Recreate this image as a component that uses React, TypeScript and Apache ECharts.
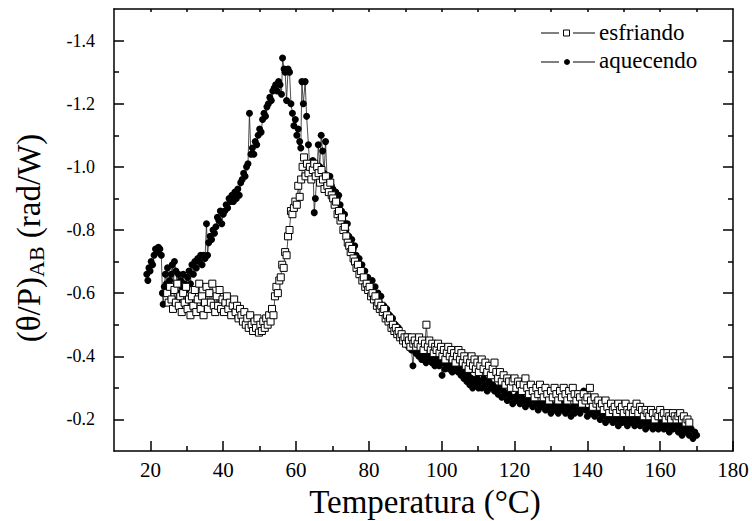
import React, { useEffect, useRef } from "react";
import * as echarts from "echarts";

const xMajorTicks = [20, 40, 60, 80, 100, 120, 140, 160, 180];
const xMinorTicks = [30, 50, 70, 90, 110, 130, 150, 170];
const xTopTicks = [20, 30, 40, 50, 60, 70, 80, 90, 100, 110, 120, 130, 140, 150, 160, 170];
const yMajorTicks = [-1.4, -1.2, -1.0, -0.8, -0.6, -0.4, -0.2];
const yMinorTicks = [-1.3, -1.1, -0.9, -0.7, -0.5, -0.3];
const seriesNames = ["esfriando", "aquecendo"];
const xTitle = "Temperatura (°C)";

const aquecendo: [number, number][] = [
  [19.0,-0.66],[19.3,-0.64],[19.6,-0.68],[19.9,-0.67],[20.2,-0.70],[20.6,-0.69],[21.0,-0.72],[21.4,-0.74],[21.8,-0.73],[22.2,-0.745],
  [22.6,-0.74],[23.0,-0.72],[23.3,-0.60],[23.5,-0.565],[23.8,-0.62],[24.1,-0.66],[24.4,-0.63],[24.7,-0.68],[25.0,-0.61],[25.3,-0.64],
  [25.7,-0.66],[26.0,-0.69],[26.3,-0.62],[26.6,-0.70],[27.0,-0.67],[27.3,-0.63],[27.7,-0.66],[28.0,-0.60],[28.3,-0.64],[28.7,-0.62],
  [29.0,-0.66],[29.4,-0.63],[29.8,-0.61],[30.2,-0.65],[30.6,-0.67],[31.0,-0.63],[31.4,-0.69],[31.8,-0.66],[32.2,-0.70],[32.6,-0.68],
  [33.0,-0.71],[33.4,-0.70],[33.8,-0.72],[34.2,-0.69],[34.6,-0.72],[35.0,-0.71],[35.4,-0.82],[35.7,-0.72],[36.0,-0.76],[36.4,-0.78],
  [36.8,-0.77],[37.2,-0.80],[37.6,-0.79],[38.0,-0.81],[38.4,-0.84],[38.8,-0.83],[39.2,-0.86],[39.6,-0.82],[40.0,-0.85],[40.4,-0.86],
  [40.8,-0.88],[41.2,-0.87],[41.6,-0.90],[42.0,-0.89],[42.4,-0.91],[42.8,-0.89],[43.2,-0.92],[43.6,-0.90],[44.0,-0.93],[44.4,-0.91],
  [44.8,-0.95],[45.2,-0.96],[45.6,-0.98],[46.0,-0.97],[46.4,-1.00],[46.8,-1.01],[47.2,-1.17],[47.6,-1.04],[48.0,-1.06],[48.4,-1.04],
  [48.8,-1.08],[49.2,-1.07],[49.6,-1.10],[50.0,-1.12],[50.4,-1.11],[50.8,-1.15],[51.2,-1.17],[51.6,-1.16],[52.0,-1.19],[52.4,-1.20],
  [52.8,-1.22],[53.2,-1.21],[53.6,-1.24],[54.0,-1.25],[54.4,-1.26],[54.8,-1.24],[55.2,-1.27],[55.6,-1.26],[56.0,-1.23],[56.3,-1.345],
  [56.7,-1.31],[57.0,-1.30],[57.4,-1.21],[57.8,-1.31],[58.2,-1.30],[58.6,-1.20],[59.0,-1.17],[59.4,-1.13],[59.8,-1.15],[60.2,-1.10],
  [60.6,-1.12],[61.0,-1.08],[61.3,-1.06],[61.6,-1.27],[62.0,-1.20],[62.5,-1.27],[62.9,-1.16],[63.4,-1.07],[63.8,-0.99],[64.2,-0.96],
  [64.6,-1.02],[65.0,-0.855],[65.3,-0.90],[65.7,-0.97],[66.1,-1.07],[66.5,-1.00],[66.9,-1.10],[67.3,-1.05],[67.7,-0.98],[68.1,-1.08],
  [68.5,-0.97],[68.9,-0.95],[69.3,-0.97],[69.7,-0.94],[70.1,-0.93],[70.5,-0.91],[70.9,-0.92],[71.3,-0.90],[71.7,-0.91],[72.1,-0.88],
  [72.5,-0.86],[72.9,-0.83],[73.3,-0.85],[73.7,-0.80],[74.1,-0.82],[74.5,-0.78],[74.9,-0.76],[75.3,-0.77],[75.7,-0.74],[76.1,-0.75],
  [76.5,-0.72],[76.9,-0.70],[77.3,-0.71],[77.7,-0.68],[78.1,-0.69],[78.5,-0.66],[78.9,-0.67],[79.3,-0.64],[79.7,-0.65],[80.1,-0.63],
  [80.5,-0.61],[80.9,-0.64],[81.3,-0.60],[81.7,-0.62],[82.1,-0.58],[82.5,-0.60],[82.9,-0.57],[83.3,-0.59],[83.7,-0.55],[84.1,-0.56],
  [84.5,-0.53],[84.9,-0.55],[85.3,-0.51],[85.7,-0.53],[86.1,-0.50],[86.5,-0.52],[86.9,-0.48],[87.3,-0.50],[87.7,-0.47],[88.1,-0.49],
  [88.5,-0.46],[88.9,-0.47],[89.3,-0.45],[89.7,-0.46],[90.1,-0.44],[90.5,-0.45],[90.9,-0.43],[91.3,-0.46],[91.7,-0.42],[92.1,-0.37],
  [92.5,-0.43],[92.9,-0.41],[93.3,-0.42],[93.7,-0.40],[94.1,-0.41],[94.5,-0.39],[94.9,-0.42],[95.3,-0.40],[95.7,-0.38],[96.1,-0.41],
  [96.5,-0.39],[96.9,-0.40],[97.3,-0.38],[97.7,-0.39],[98.1,-0.37],[98.5,-0.40],[98.9,-0.38],[99.3,-0.37],[99.7,-0.39],[100.1,-0.34],
  [100.5,-0.38],[100.9,-0.36],[101.3,-0.37],[101.7,-0.39],[102.1,-0.36],[102.5,-0.38],[102.9,-0.35],[103.3,-0.37],[103.7,-0.36],[104.1,-0.38],
  [104.5,-0.35],[104.9,-0.37],[105.3,-0.34],[105.7,-0.36],[106.1,-0.33],[106.5,-0.35],[106.9,-0.32],[107.3,-0.34],[107.7,-0.31],[108.1,-0.33],
  [108.5,-0.30],[108.9,-0.32],[109.3,-0.31],[109.7,-0.33],[110.1,-0.30],[110.5,-0.32],[111.0,-0.30],[111.5,-0.33],[112.0,-0.31],[112.5,-0.29],
  [113.0,-0.32],[113.5,-0.30],[114.0,-0.31],[114.5,-0.29],[115.0,-0.30],[115.5,-0.28],[116.0,-0.30],[116.5,-0.27],[117.0,-0.29],[117.5,-0.28],
  [118.0,-0.26],[118.5,-0.28],[119.0,-0.27],[119.5,-0.25],[120.0,-0.27],[120.5,-0.26],[121.0,-0.28],[121.5,-0.25],[122.0,-0.27],[122.5,-0.26],
  [123.0,-0.24],[123.5,-0.26],[124.0,-0.25],[124.5,-0.27],[125.0,-0.24],[125.5,-0.26],[126.0,-0.25],[126.5,-0.23],[127.0,-0.25],[127.5,-0.24],
  [128.0,-0.26],[128.5,-0.23],[129.0,-0.25],[129.5,-0.24],[130.0,-0.22],[130.5,-0.24],[131.0,-0.23],[131.5,-0.25],[132.0,-0.22],[132.5,-0.24],
  [133.0,-0.23],[133.5,-0.25],[134.0,-0.22],[134.5,-0.24],[135.0,-0.23],[135.5,-0.21],[136.0,-0.24],[136.5,-0.22],[137.0,-0.23],[137.5,-0.25],
  [138.0,-0.22],[138.5,-0.24],[139.0,-0.29],[139.5,-0.23],[140.0,-0.21],[140.5,-0.23],[141.0,-0.22],[141.5,-0.24],[142.0,-0.21],[142.5,-0.23],
  [143.0,-0.22],[143.5,-0.20],[144.0,-0.22],[144.5,-0.21],[145.0,-0.19],[145.5,-0.21],[146.0,-0.20],[146.5,-0.22],[147.0,-0.19],[147.5,-0.21],
  [148.0,-0.20],[148.5,-0.18],[149.0,-0.20],[149.5,-0.19],[150.0,-0.21],[150.5,-0.19],[151.0,-0.18],[151.5,-0.20],[152.0,-0.19],[152.5,-0.21],
  [153.0,-0.18],[153.5,-0.20],[154.0,-0.19],[154.5,-0.18],[155.0,-0.20],[155.5,-0.19],[156.0,-0.17],[156.5,-0.19],[157.0,-0.18],[157.5,-0.20],
  [158.0,-0.17],[158.5,-0.19],[159.0,-0.18],[159.5,-0.17],[160.0,-0.19],[160.5,-0.18],[161.0,-0.17],[161.5,-0.19],[162.0,-0.18],[162.5,-0.16],
  [163.0,-0.18],[163.5,-0.17],[164.0,-0.19],[164.5,-0.18],[165.0,-0.16],[165.5,-0.18],[166.0,-0.15],[166.5,-0.17],[167.0,-0.16],[167.5,-0.18],
  [168.0,-0.15],[168.5,-0.17],[169.0,-0.14],[169.5,-0.16],[170.0,-0.15]
];

const esfriando: [number, number][] = [
  [24.6,-0.60],[25.0,-0.57],[25.4,-0.62],[25.8,-0.58],[26.2,-0.55],[26.6,-0.61],[27.0,-0.57],[27.4,-0.63],[27.8,-0.56],[28.2,-0.59],
  [28.6,-0.54],[29.0,-0.60],[29.4,-0.57],[29.8,-0.62],[30.2,-0.55],[30.6,-0.58],[31.0,-0.53],[31.4,-0.59],[31.8,-0.56],[32.2,-0.61],
  [32.6,-0.54],[33.0,-0.58],[33.4,-0.63],[33.8,-0.55],[34.2,-0.59],[34.6,-0.53],[35.0,-0.57],[35.4,-0.62],[35.8,-0.55],[36.2,-0.60],
  [36.6,-0.57],[37.0,-0.63],[37.4,-0.56],[37.8,-0.54],[38.2,-0.59],[38.6,-0.56],[39.0,-0.61],[39.4,-0.55],[39.8,-0.58],[40.2,-0.54],
  [40.6,-0.57],[41.0,-0.59],[41.4,-0.55],[41.8,-0.57],[42.2,-0.53],[42.6,-0.56],[43.0,-0.58],[43.4,-0.54],[43.8,-0.56],[44.2,-0.52],
  [44.6,-0.55],[45.0,-0.53],[45.4,-0.51],[45.8,-0.54],[46.2,-0.50],[46.6,-0.52],[47.0,-0.49],[47.4,-0.53],[47.8,-0.50],[48.2,-0.48],
  [48.6,-0.51],[49.0,-0.49],[49.4,-0.52],[49.8,-0.475],[50.2,-0.50],[50.6,-0.48],[51.0,-0.51],[51.4,-0.49],[51.8,-0.52],[52.2,-0.50],
  [52.6,-0.53],[53.0,-0.51],[53.4,-0.55],[53.8,-0.53],[54.2,-0.59],[54.6,-0.62],[55.0,-0.60],[55.4,-0.64],[55.8,-0.65],[56.2,-0.69],
  [56.6,-0.68],[57.0,-0.73],[57.4,-0.72],[57.8,-0.78],[58.2,-0.80],[58.6,-0.86],[59.0,-0.85],[59.4,-0.87],[59.8,-0.89],[60.2,-0.88],
  [60.6,-0.94],[61.0,-0.905],[61.4,-0.96],[61.8,-1.00],[62.2,-1.03],[62.6,-0.97],[63.0,-1.01],[63.4,-0.98],[63.8,-1.00],[64.2,-0.96],
  [64.6,-0.99],[65.0,-1.01],[65.4,-0.97],[65.8,-1.00],[66.2,-0.98],[66.6,-0.95],[67.0,-0.99],[67.4,-0.96],[67.8,-0.93],[68.2,-0.97],
  [68.6,-0.94],[69.0,-0.92],[69.4,-0.95],[69.8,-0.91],[70.2,-0.90],[70.6,-0.88],[71.0,-0.89],[71.4,-0.85],[71.8,-0.86],[72.2,-0.83],
  [72.6,-0.84],[73.0,-0.80],[73.4,-0.81],[73.8,-0.78],[74.2,-0.76],[74.6,-0.75],[75.0,-0.73],[75.4,-0.74],[75.8,-0.71],[76.2,-0.70],
  [76.6,-0.68],[77.0,-0.69],[77.4,-0.66],[77.8,-0.67],[78.2,-0.64],[78.6,-0.65],[79.0,-0.62],[79.4,-0.63],[79.8,-0.61],[80.2,-0.62],
  [80.6,-0.59],[81.0,-0.60],[81.4,-0.58],[81.8,-0.59],[82.2,-0.56],[82.6,-0.57],[83.0,-0.55],[83.4,-0.56],[83.8,-0.54],[84.2,-0.55],
  [84.6,-0.52],[85.0,-0.53],[85.4,-0.51],[85.8,-0.52],[86.2,-0.49],[86.6,-0.50],[87.0,-0.48],[87.4,-0.49],[87.8,-0.47],[88.2,-0.48],
  [88.6,-0.46],[89.0,-0.47],[89.4,-0.45],[89.8,-0.46],[90.2,-0.44],[90.6,-0.46],[91.0,-0.45],[91.4,-0.43],[91.8,-0.46],[92.2,-0.44],
  [92.6,-0.45],[93.0,-0.43],[93.4,-0.44],[93.8,-0.46],[94.2,-0.43],[94.6,-0.45],[95.0,-0.42],[95.4,-0.44],[95.8,-0.50],[96.2,-0.43],
  [96.6,-0.45],[97.0,-0.42],[97.4,-0.44],[97.8,-0.41],[98.2,-0.43],[98.6,-0.42],[99.0,-0.44],[99.4,-0.41],[99.8,-0.43],[100.2,-0.40],
  [100.6,-0.42],[101.0,-0.39],[101.4,-0.41],[101.8,-0.43],[102.2,-0.40],[102.6,-0.42],[103.0,-0.39],[103.4,-0.41],[103.8,-0.38],[104.2,-0.40],
  [104.6,-0.42],[105.0,-0.39],[105.4,-0.41],[105.8,-0.38],[106.2,-0.40],[106.6,-0.37],[107.0,-0.39],[107.4,-0.36],[107.8,-0.38],[108.2,-0.40],
  [108.6,-0.37],[109.0,-0.39],[109.4,-0.36],[109.8,-0.38],[110.2,-0.35],[110.6,-0.37],[111.0,-0.39],[111.5,-0.36],[112.0,-0.38],[112.5,-0.35],
  [113.0,-0.37],[113.5,-0.34],[114.0,-0.36],[114.5,-0.38],[115.0,-0.35],[115.5,-0.33],[116.0,-0.35],[116.5,-0.32],[117.0,-0.34],[117.5,-0.31],
  [118.0,-0.33],[118.5,-0.32],[119.0,-0.30],[119.5,-0.32],[120.0,-0.33],[120.5,-0.30],[121.0,-0.32],[121.5,-0.31],[122.0,-0.29],[122.5,-0.31],
  [123.0,-0.33],[123.5,-0.30],[124.0,-0.28],[124.5,-0.31],[125.0,-0.29],[125.5,-0.27],[126.0,-0.30],[126.5,-0.28],[127.0,-0.31],[127.5,-0.29],
  [128.0,-0.27],[128.5,-0.30],[129.0,-0.28],[129.5,-0.26],[130.0,-0.29],[130.5,-0.27],[131.0,-0.30],[131.5,-0.28],[132.0,-0.26],[132.5,-0.29],
  [133.0,-0.27],[133.5,-0.30],[134.0,-0.28],[134.5,-0.26],[135.0,-0.29],[135.5,-0.27],[136.0,-0.30],[136.5,-0.28],[137.0,-0.26],[137.5,-0.28],
  [138.0,-0.27],[138.5,-0.25],[139.0,-0.28],[139.5,-0.26],[140.0,-0.27],[140.7,-0.30],[141.0,-0.26],[141.5,-0.24],[142.0,-0.27],[142.5,-0.25],
  [143.0,-0.26],[143.5,-0.24],[144.0,-0.25],[144.5,-0.23],[145.0,-0.26],[145.5,-0.24],[146.0,-0.22],[146.5,-0.25],[147.0,-0.23],[147.5,-0.24],
  [148.0,-0.22],[148.5,-0.25],[149.0,-0.23],[149.5,-0.24],[150.0,-0.22],[150.5,-0.25],[151.0,-0.23],[151.5,-0.22],[152.0,-0.24],[152.5,-0.22],
  [153.0,-0.23],[153.5,-0.25],[154.0,-0.22],[154.5,-0.24],[155.0,-0.23],[155.5,-0.21],[156.0,-0.23],[156.5,-0.22],[157.0,-0.21],[157.5,-0.23],
  [158.0,-0.22],[158.5,-0.20],[159.0,-0.22],[159.5,-0.21],[160.0,-0.23],[160.5,-0.21],[161.0,-0.22],[161.5,-0.20],[162.0,-0.22],[162.5,-0.21],
  [163.0,-0.20],[163.5,-0.22],[164.0,-0.21],[164.5,-0.20],[165.0,-0.21],[165.5,-0.22],[166.0,-0.20],[166.5,-0.21],[167.0,-0.19],[167.5,-0.20],
  [168.0,-0.19]
];

const FONT = "Liberation Serif";
const BLACK = "#000";
const CSS = "#chart-root svg text, #chart-root svg tspan { font-family: 'Liberation Serif', serif !important; }";

function txt(x: number, y: number, text: string, size: number, align: string, vAlign: string): any {
  return { type: "text", x, y, style: { text, fontSize: size, fontFamily: FONT, fill: BLACK, align, verticalAlign: vAlign } };
}

function buildOption(): any {
  const line = { color: BLACK, width: 1.5 };
  const labelX = { customValues: xMajorTicks, fontSize: 21, fontFamily: FONT, color: BLACK, margin: 8 };
  const labelY = { customValues: yMajorTicks, fontSize: 18, fontFamily: FONT, color: BLACK, margin: 19, formatter: (v: number) => v.toFixed(1) };
  const baseX = { type: "value", min: 10, max: 180, splitLine: { show: false } };
  const baseY = { type: "value", min: -1.5, max: -0.1, inverse: true, splitLine: { show: false } };
  return {
    animation: false,
    textStyle: { fontFamily: FONT },
    grid: { left: 114, right: 19, top: 9, bottom: 70 },
    xAxis: [
      { ...baseX, position: "bottom", axisLine: { show: true, onZero: false, lineStyle: line },
        axisTick: { show: true, inside: true, length: 10, customValues: xMajorTicks, lineStyle: line }, axisLabel: labelX },
      { ...baseX, position: "bottom", axisLine: { show: false, onZero: false },
        axisTick: { show: true, inside: true, length: 5, customValues: xMinorTicks, lineStyle: line }, axisLabel: { show: false } },
      { ...baseX, position: "top", axisLine: { show: true, onZero: false, lineStyle: line },
        axisTick: { show: true, inside: true, length: 3, customValues: xTopTicks, lineStyle: line }, axisLabel: { show: false } },
    ],
    yAxis: [
      { ...baseY, position: "left", axisLine: { show: true, onZero: false, lineStyle: line },
        axisTick: { show: true, inside: true, length: 10, customValues: yMajorTicks, lineStyle: line }, axisLabel: labelY },
      { ...baseY, position: "left", axisLine: { show: false, onZero: false },
        axisTick: { show: true, inside: true, length: 5, customValues: yMinorTicks, lineStyle: line }, axisLabel: { show: false } },
      { ...baseY, position: "right", axisLine: { show: true, onZero: false, lineStyle: line },
        axisTick: { show: true, inside: true, length: 10, customValues: yMajorTicks, lineStyle: line }, axisLabel: { show: false } },
      { ...baseY, position: "right", axisLine: { show: false, onZero: false },
        axisTick: { show: true, inside: true, length: 5, customValues: yMinorTicks, lineStyle: line }, axisLabel: { show: false } },
    ],
    series: [
      { name: seriesNames[1], type: "line", data: aquecendo, symbol: "circle", symbolSize: 7, showSymbol: true, showAllSymbol: true,
        itemStyle: { color: BLACK }, lineStyle: { color: "#222", width: 0.8 } },
      { name: seriesNames[0], type: "line", data: esfriando, symbol: "rect", symbolSize: 7, showSymbol: true, showAllSymbol: true,
        itemStyle: { color: "#fff", borderColor: BLACK, borderWidth: 1 }, lineStyle: { color: "#222", width: 0.8 } },
    ],
    graphic: [
      txt(425, 502, xTitle, 33, "center", "middle"),
      {
        type: "text", x: 29, y: 238, rotation: Math.PI / 2,
        style: {
          text: "(θ/P){sub|AB} (rad/W)", fontSize: 33, fontFamily: FONT, fill: BLACK, align: "center", verticalAlign: "middle",
          rich: { sub: { fontSize: 22, fontFamily: FONT, fill: BLACK, padding: [14, 0, 0, 0] } },
        },
      },
      { type: "line", shape: { x1: 541, y1: 33, x2: 559, y2: 33 }, style: { stroke: BLACK, lineWidth: 1 } },
      { type: "rect", shape: { x: 563.5, y: 30, width: 6, height: 6 }, style: { fill: "#fff", stroke: BLACK, lineWidth: 1 } },
      { type: "line", shape: { x1: 573, y1: 33, x2: 595, y2: 33 }, style: { stroke: BLACK, lineWidth: 1 } },
      txt(599, 32, seriesNames[0], 23, "left", "middle"),
      { type: "line", shape: { x1: 541, y1: 62, x2: 559, y2: 62 }, style: { stroke: BLACK, lineWidth: 1 } },
      { type: "circle", shape: { cx: 567, cy: 62, r: 3 }, style: { fill: BLACK } },
      { type: "line", shape: { x1: 573, y1: 62, x2: 595, y2: 62 }, style: { stroke: BLACK, lineWidth: 1 } },
      txt(599, 60, seriesNames[1], 23, "left", "middle"),
    ],
  };
}

export default function App() {
  const ref = useRef<HTMLDivElement>(null);
  useEffect(() => {
    if (!ref.current) return;
    const chart = echarts.init(ref.current, null, { renderer: "svg" });
    chart.setOption(buildOption());
    return () => chart.dispose();
  }, []);
  return (
    <>
      <style>{CSS}</style>
      <div
        id="chart-root"
        ref={ref}
        style={{ position: "absolute", left: 0, top: 0, width: 752, height: 521, background: "#fff" }}
      />
    </>
  );
}
